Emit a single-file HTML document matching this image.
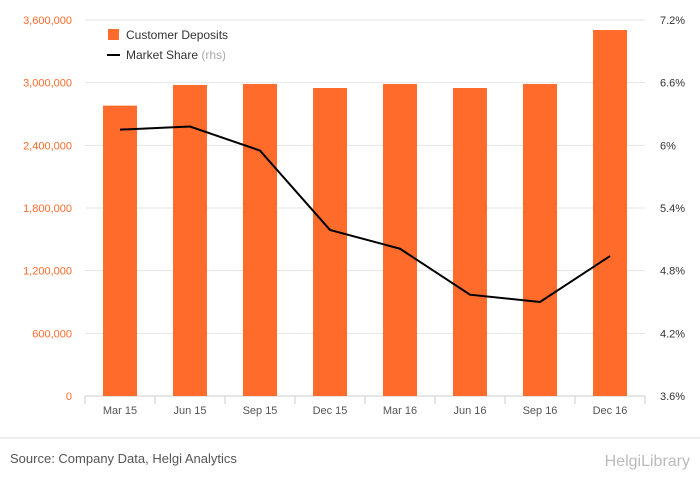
<!DOCTYPE html>
<html><head><meta charset="utf-8"><style>
body{margin:0;background:#fff;font-family:"Liberation Sans",sans-serif;}
svg text{font-family:"Liberation Sans",sans-serif;}
</style></head><body>
<svg id="chart" width="700" height="483" viewBox="0 0 700 483" xmlns="http://www.w3.org/2000/svg">
<rect width="700" height="483" fill="#fff"/>
<g id="grid"></g><g id="bars"></g><g id="line"></g><g id="axes"></g>
<g>
<rect x="108" y="29" width="11" height="11" fill="#ff6b2b"/>
<text x="126" y="39" font-size="12" fill="#333">Customer Deposits</text>
<line x1="107" y1="55" x2="120" y2="55" stroke="#000" stroke-width="2"/>
<text x="126" y="59" font-size="12" fill="#333">Market Share <tspan fill="#aaa">(rhs)</tspan></text>
</g>
<line x1="0" y1="438" x2="700" y2="438" stroke="#ddd"/>
<text x="10" y="463" font-size="13" fill="#555">Source: Company Data, Helgi Analytics</text>
<text x="690" y="466" font-size="16" fill="#bbb" text-anchor="end">HelgiLibrary</text>
</svg>
<script>
const categories=["Mar 15","Jun 15","Sep 15","Dec 15","Mar 16","Jun 16","Sep 16","Dec 16"];
const deposits=[2780000,2978000,2987000,2949000,2987000,2949000,2987000,3504000];
const share=[6.15,6.18,5.95,5.19,5.01,4.57,4.50,4.94];
const leftTicks=[0,600000,1200000,1800000,2400000,3000000,3600000];
const rightTicks=[3.6,4.2,4.8,5.4,6,6.6,7.2];
const NS="http://www.w3.org/2000/svg";
const X0=85,X1=645,Y0=396,Y1=20;
const band=(X1-X0)/categories.length;
const xc=i=>X0+band*(i+0.5);
const yL=v=>Y0-(v/3600000)*(Y0-Y1);
const yR=v=>Y0-((v-3.6)/3.6)*(Y0-Y1);
function mk(tag,attrs,parent,txt){const e=document.createElementNS(NS,tag);for(const k in attrs)e.setAttribute(k,attrs[k]);if(txt!==undefined)e.textContent=txt;document.getElementById(parent).appendChild(e);return e;}
leftTicks.forEach((t,i)=>{
  const l=mk('line',{x1:X0,x2:X1,y1:yL(t),y2:yL(t),stroke:i===0?'#ccc':'#e6e6e6'},'grid');
  
  
  const tx=mk('text',{x:72,y:yL(t)+4,'font-size':11,fill:'#ff6b2b','text-anchor':'end'},'axes',t.toLocaleString('en-US'));
  
  
});
rightTicks.forEach(t=>{
  const tx=mk('text',{x:660,y:yR(t)+4,'font-size':11,fill:'#333'},'axes',(Math.round(t*10)/10)+'%');
  
  
});
categories.forEach((c,i)=>{
  const tk=mk('line',{x1:X0+band*i,x2:X0+band*i,y1:Y0,y2:Y0+8,stroke:'#ccc'},'axes');
  
  
  const tx=mk('text',{x:xc(i),y:414,'font-size':11,fill:'#555','text-anchor':'middle'},'axes',c);
  
  
  const b=mk('rect',{x:xc(i)-17,y:yL(deposits[i]),width:34,height:Y0-yL(deposits[i]),fill:'#ff6b2b'},'bars');
  
  
});
const end=mk('line',{x1:X1,x2:X1,y1:Y0,y2:Y0+8,stroke:'#ccc'},'axes');


const p=mk('polyline',{points:share.map((v,i)=>xc(i)+','+yR(v)).join(' '),fill:'none',stroke:'#000','stroke-width':2},'line');


</script>
</body></html>
